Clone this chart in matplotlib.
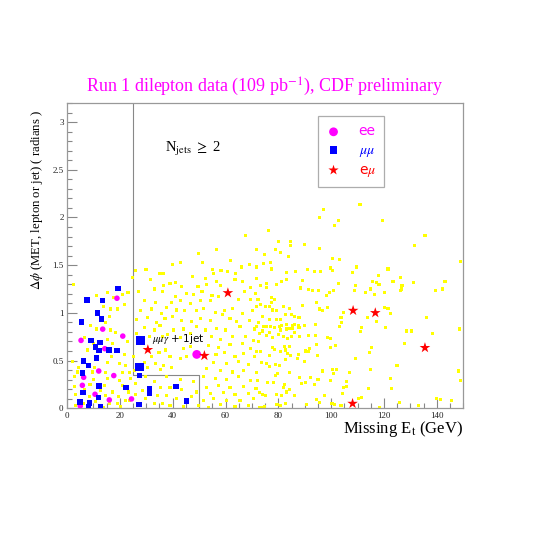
import numpy as np
import matplotlib
matplotlib.use('Agg')
import matplotlib.pyplot as plt
from matplotlib.ticker import MultipleLocator

plt.rcParams['font.family'] = ['Liberation Serif', 'DejaVu Serif']
plt.rcParams['mathtext.fontset'] = 'stix'

# ── ee (magenta circles) ──
ee_x = [18.9, 13.5, 5.3, 21.1, 14.3, 12.0, 17.7, 6.3, 5.8, 10.6, 16.0, 5.0, 24.4]
ee_y = [1.153, 0.829, 0.711, 0.756, 0.624, 0.390, 0.342, 0.324, 0.240, 0.146, 0.087, 0.024, 0.097]
ee_big_x = [49.1]
ee_big_y = [0.564]

# ── mumu (blue squares) ──
mm_x = [19.2, 7.6, 13.4, 11.5, 13.1, 5.4, 9.0, 12.4, 10.7, 12.1, 15.8, 18.9, 11.1, 6.2,
        8.1, 5.9, 12.0, 6.1, 22.3, 4.9, 8.5, 11.9, 8.2, 12.6, 27.3, 31.2, 31.2, 27.4,
        41.2, 45.3]
mm_y = [1.254, 1.136, 1.128, 0.996, 0.933, 0.902, 0.711, 0.690, 0.644, 0.603, 0.613, 0.603,
        0.529, 0.494, 0.446, 0.369, 0.233, 0.164, 0.219, 0.063, 0.055, 0.112, 0.014, 0.014,
        0.038, 0.206, 0.157, 0.342, 0.226, 0.077]
# mumu-gamma + 1 jet events
mmg_x = [27.8, 27.3]
mmg_y = [0.71, 0.432]

# ── emu (red stars) ──
em_x = [30.6, 60.9, 52.0, 108.3, 108.1, 116.7, 135.5]
em_y = [0.613, 1.209, 0.551, 1.024, 0.049, 1.0, 0.634]

# ── background MC (yellow) ──
bg_pts = [
    # 0 < MET < 37
    (2.5, 1.30), (11.1, 1.18), (15.3, 1.21), (21.1, 1.19), (23.1, 1.21), (17.6, 1.16),
    (13.8, 1.07), (16.5, 1.04), (19.1, 1.04), (21.8, 1.09), (16.0, 0.96), (14.4, 0.90),
    (9.0, 0.87), (11.1, 0.83), (16.5, 0.82), (18.4, 0.79), (6.6, 0.74), (15.3, 0.72),
    (10.0, 0.68), (17.3, 0.68), (23.0, 0.70), (7.7, 0.61), (21.6, 0.56), (16.9, 0.54),
    (2.1, 0.49), (4.5, 0.43), (10.4, 0.43), (15.3, 0.48), (19.7, 0.47), (22.3, 0.45),
    (3.9, 0.38), (9.6, 0.38), (14.4, 0.37), (21.0, 0.37), (23.5, 0.37), (2.7, 0.33),
    (10.0, 0.30), (15.3, 0.31), (19.7, 0.29), (23.9, 0.31), (8.7, 0.25), (14.3, 0.24),
    (21.0, 0.24), (2.7, 0.23), (6.7, 0.20), (12.8, 0.19), (17.3, 0.17), (23.4, 0.17),
    (3.3, 0.14), (8.5, 0.12), (14.6, 0.13), (19.4, 0.12), (10.9, 0.07), (16.0, 0.05),
    (19.1, 0.05), (22.2, 0.08), (6.4, 0.05), (3.3, 0.03), (13.8, 0.01), (20.1, 0.02),
    (23.7, 0.08),
    (25.9, 1.44), (29.9, 1.45), (24.7, 1.37), (31.7, 1.35), (35.2, 1.41), (27.1, 1.22),
    (33.0, 1.25), (36.5, 1.29), (29.2, 1.13), (33.6, 1.11), (27.9, 1.02), (31.9, 1.04),
    (35.7, 0.99), (26.4, 0.93), (30.4, 0.95), (34.0, 0.90), (29.2, 0.85), (33.0, 0.82),
    (26.4, 0.78), (36.1, 0.75), (31.1, 0.75), (25.1, 0.54), (31.9, 0.54), (34.8, 0.58),
    (29.2, 0.48), (33.6, 0.47), (30.4, 0.43), (35.5, 0.41), (25.6, 0.40), (29.8, 0.33),
    (33.0, 0.28), (35.5, 0.22), (26.0, 0.26), (28.5, 0.19), (34.2, 0.13), (29.8, 0.10),
    (33.0, 0.05), (36.1, 0.05), (26.0, 0.14),
    # 35 < MET < 72
    (67.4, 1.81), (56.7, 1.66), (49.7, 1.62), (42.8, 1.53), (39.8, 1.51), (51.3, 1.53),
    (61.9, 1.55), (69.1, 1.51), (36.5, 1.41), (55.1, 1.45), (55.4, 1.41), (58.3, 1.44),
    (60.6, 1.43), (63.8, 1.41), (66.0, 1.48), (47.5, 1.38), (52.3, 1.36), (63.6, 1.35),
    (66.5, 1.33), (39.0, 1.31), (41.0, 1.32), (43.2, 1.28), (49.6, 1.28), (52.8, 1.30),
    (56.7, 1.33), (58.2, 1.29), (69.3, 1.27), (36.0, 1.22), (41.2, 1.17), (45.3, 1.20),
    (48.0, 1.19), (51.1, 1.22), (54.9, 1.18), (57.2, 1.17), (67.3, 1.22), (71.5, 1.20),
    (39.5, 1.11), (42.8, 1.13), (46.8, 1.10), (50.5, 1.13), (54.3, 1.13), (65.0, 1.14),
    (69.3, 1.14), (37.5, 1.06), (41.3, 1.03), (44.4, 1.02), (48.9, 1.02), (51.8, 1.05),
    (56.1, 1.00), (59.5, 1.02), (62.8, 1.05), (66.3, 0.99), (70.3, 1.02), (37.1, 0.94),
    (39.8, 0.96), (43.4, 0.92), (47.2, 0.91), (50.6, 0.94), (54.3, 0.92), (58.8, 0.98),
    (61.7, 0.94), (64.3, 0.91), (69.1, 0.92), (35.2, 0.87), (40.3, 0.82), (44.1, 0.83),
    (48.9, 0.86), (52.4, 0.82), (56.7, 0.84), (60.1, 0.82), (65.5, 0.86), (71.1, 0.83),
    (38.0, 0.77), (42.8, 0.74), (46.6, 0.78), (54.8, 0.75), (58.0, 0.72), (62.6, 0.75),
    (67.4, 0.75), (70.6, 0.71), (53.5, 0.66), (57.4, 0.64), (61.7, 0.67), (66.4, 0.68),
    (69.3, 0.63), (44.1, 0.63), (46.6, 0.65), (37.4, 0.61), (56.4, 0.56), (59.6, 0.58),
    (63.6, 0.54), (66.8, 0.57), (71.1, 0.54), (39.0, 0.54), (42.8, 0.52), (45.3, 0.54),
    (55.4, 0.48), (60.5, 0.47), (65.0, 0.49), (68.8, 0.46), (36.5, 0.45), (39.6, 0.43),
    (52.9, 0.42), (58.2, 0.40), (62.8, 0.38), (66.8, 0.40), (71.8, 0.37), (51.6, 0.33),
    (56.1, 0.31), (60.5, 0.30), (64.9, 0.33), (69.3, 0.29), (37.8, 0.33), (42.8, 0.30),
    (47.9, 0.28), (52.9, 0.22), (57.3, 0.24), (61.7, 0.22), (66.8, 0.23), (71.2, 0.21),
    (39.0, 0.22), (43.4, 0.20), (49.1, 0.17), (54.2, 0.15), (59.2, 0.16), (63.6, 0.14),
    (68.7, 0.15), (37.8, 0.13), (41.5, 0.10), (47.2, 0.12), (51.6, 0.08), (55.4, 0.10),
    (60.5, 0.08), (65.5, 0.08), (70.6, 0.10), (39.0, 0.03), (44.1, 0.02), (49.7, 0.03),
    (53.5, 0.01), (58.0, 0.04), (63.6, 0.02), (68.7, 0.03),
    # 71 < MET < 112
    (97.1, 2.08), (95.6, 2.00), (102.8, 1.97), (101.4, 1.92), (76.4, 1.86), (79.9, 1.75),
    (84.5, 1.745), (84.6, 1.71), (90.0, 1.72), (95.5, 1.67), (79.0, 1.66), (80.7, 1.63),
    (84.0, 1.59), (74.9, 1.61), (71.6, 1.66), (71.8, 1.48), (74.5, 1.52), (77.1, 1.53),
    (77.4, 1.46), (86.4, 1.43), (83.2, 1.42), (91.0, 1.45), (93.8, 1.435), (95.8, 1.43),
    (100.5, 1.44), (99.9, 1.47), (103.3, 1.56), (100.4, 1.57), (108.0, 1.42), (109.5, 1.48),
    (71.8, 1.36), (75.4, 1.31), (73.1, 1.29), (75.6, 1.27), (81.2, 1.33), (79.3, 1.30),
    (83.2, 1.35), (89.3, 1.34), (88.5, 1.26), (91.4, 1.24), (92.8, 1.23), (95.2, 1.23),
    (100.8, 1.23), (99.2, 1.21), (98.1, 1.18), (102.7, 1.31), (109.2, 1.29), (108.7, 1.23),
    (72.3, 1.14), (77.3, 1.16), (78.5, 1.14), (77.4, 1.11), (73.1, 1.09), (71.6, 1.07),
    (75.0, 1.07), (76.8, 1.07), (77.8, 1.03), (79.2, 1.02), (82.1, 1.07), (84.3, 1.05),
    (89.1, 1.08), (94.3, 1.11), (95.6, 1.04), (96.8, 1.02), (98.5, 1.06), (104.8, 1.00),
    (103.7, 0.95), (74.1, 0.96), (76.8, 0.93), (79.4, 0.93), (80.8, 0.93), (82.8, 0.98),
    (85.0, 0.98), (86.2, 0.96), (87.8, 0.95), (72.6, 0.90), (71.6, 0.86), (74.4, 0.86),
    (75.5, 0.86), (77.0, 0.86), (78.5, 0.85), (80.3, 0.86), (81.3, 0.87), (83.2, 0.88),
    (85.2, 0.87), (86.0, 0.88), (87.6, 0.87), (89.9, 0.87), (94.1, 0.88), (103.2, 0.86),
    (104.0, 0.90), (111.4, 0.85), (73.0, 0.78), (73.9, 0.81), (76.8, 0.79), (80.7, 0.82),
    (83.0, 0.83), (84.2, 0.84), (85.5, 0.84), (87.8, 0.85), (75.4, 0.76), (77.9, 0.74),
    (80.1, 0.77), (81.9, 0.75), (83.6, 0.73), (85.0, 0.75), (86.2, 0.79), (88.0, 0.75),
    (91.4, 0.76), (94.2, 0.76), (98.6, 0.74), (99.9, 0.73), (101.5, 0.66), (111.0, 0.80),
    (72.5, 0.70), (77.8, 0.64), (78.5, 0.62), (82.3, 0.65), (82.7, 0.61), (84.2, 0.65),
    (83.3, 0.57), (84.7, 0.55), (87.6, 0.56), (90.4, 0.60), (91.3, 0.59), (91.9, 0.63),
    (94.6, 0.67), (99.9, 0.64), (71.7, 0.59), (73.4, 0.59), (76.5, 0.55), (80.8, 0.59),
    (82.7, 0.51), (87.4, 0.52), (90.0, 0.49), (94.8, 0.55), (73.5, 0.48), (75.5, 0.47),
    (76.6, 0.44), (78.9, 0.46), (80.6, 0.45), (79.8, 0.36), (78.8, 0.34), (84.3, 0.37),
    (88.0, 0.32), (88.9, 0.26), (92.3, 0.32), (93.7, 0.25), (90.3, 0.27), (95.0, 0.30),
    (96.8, 0.39), (100.6, 0.41), (101.9, 0.41), (101.0, 0.36), (99.9, 0.29), (107.1, 0.37),
    (109.2, 0.52), (105.7, 0.28), (72.2, 0.29), (75.9, 0.27), (78.2, 0.27), (82.3, 0.25),
    (81.8, 0.22), (84.3, 0.20), (83.0, 0.17), (86.1, 0.13), (81.1, 0.13), (79.2, 0.14),
    (75.1, 0.13), (71.7, 0.21), (73.0, 0.16), (74.0, 0.14), (97.6, 0.13), (100.3, 0.05),
    (94.3, 0.09), (95.6, 0.06), (101.4, 0.04), (104.4, 0.15), (104.7, 0.22), (105.9, 0.23),
    (72.7, 0.01), (73.6, 0.01), (74.9, 0.02), (79.5, 0.04), (80.7, 0.03), (82.7, 0.05),
    (90.5, 0.04), (103.7, 0.03), (110.4, 0.10), (111.6, 0.11),
    # MET > 110
    (110.9, 2.14), (119.4, 1.97), (135.5, 1.81), (131.6, 1.71), (149.0, 1.54), (121.5, 1.46),
    (117.8, 1.39), (126.4, 1.37), (115.7, 1.33), (117.0, 1.32), (118.1, 1.30), (123.4, 1.33),
    (131.2, 1.32), (143.1, 1.33), (142.0, 1.25), (139.4, 1.23), (126.8, 1.29), (126.5, 1.25),
    (126.3, 1.23), (115.0, 1.25), (113.1, 1.21), (116.4, 1.19), (120.2, 1.21), (120.3, 1.06),
    (121.5, 1.05), (122.5, 0.99), (113.6, 0.95), (117.0, 0.91), (136.0, 0.95), (120.6, 0.85),
    (128.5, 0.81), (130.3, 0.81), (138.4, 0.78), (148.7, 0.83), (127.7, 0.68), (115.2, 0.64),
    (114.5, 0.58), (124.9, 0.45), (115.0, 0.41), (148.1, 0.39), (149.1, 0.29), (122.6, 0.31),
    (122.9, 0.21), (114.0, 0.21), (125.8, 0.06), (118.2, 0.01), (133.1, 0.03), (139.8, 0.10),
    (141.3, 0.09), (145.6, 0.08),
]
bg_x = [p[0] for p in bg_pts]
bg_y = [p[1] for p in bg_pts]

# ── Plot ──
fig = plt.figure(figsize=(5.45, 5.45), dpi=100)
ax = fig.add_axes([0.123, 0.251, 0.727, 0.560])

ax.scatter(bg_x, bg_y, s=5, marker='s', color='#ffff00', edgecolors='none', zorder=2)
ax.scatter(ee_x, ee_y, s=16, marker='o', color='#ff00ff', edgecolors='none', zorder=3, label='ee')
ax.scatter(ee_big_x, ee_big_y, s=40, marker='o', color='#ff00ff', edgecolors='none', zorder=3)
ax.scatter(mm_x, mm_y, s=16, marker='s', color='#0000ff', edgecolors='none', zorder=3,
           label=r'$\mu\mu$')
ax.scatter(mmg_x, mmg_y, s=40, marker='s', color='#0000ff', edgecolors='none', zorder=3)
ax.scatter(em_x, em_y, s=65, marker='*', color='#ff0000', edgecolors='none', zorder=4,
           label=r'e$\mu$')

# cut lines
ax.plot([25, 25, 50, 50], [3.2, 0.35, 0.35, 0], color='#888888', lw=0.8, zorder=1)

ax.text(37, 2.72, r'N$_{\rm jets}$ $\geq$ 2', fontsize=10.5, va='center')
ax.text(32.2, 0.73, r'$\mu\mu\gamma$ + 1jet', fontsize=7.5, va='center',
        family=['DejaVu Sans'])

ax.set_xlim(0, 150)
ax.set_ylim(0, 3.2)
ax.xaxis.set_major_locator(MultipleLocator(20))
ax.xaxis.set_minor_locator(MultipleLocator(5))
ax.yaxis.set_major_locator(MultipleLocator(0.5))
ax.yaxis.set_minor_locator(MultipleLocator(0.1))
ax.yaxis.set_major_formatter(plt.FuncFormatter(lambda v, p: f'{v:g}'))
ax.tick_params(which='both', direction='in', colors='#888888', labelcolor='#222222',
               labelsize=6.5, width=0.8)
ax.tick_params(which='major', length=7, pad=2.5)
ax.tick_params(which='minor', length=3.5)
for sp in ax.spines.values():
    sp.set_color('#999999')
    sp.set_linewidth(0.9)

ax.set_xlabel(r'Missing E$_{\rm t}$ (GeV)', fontsize=12, loc='right')
ax.xaxis.set_label_coords(1.0, -0.036)
ax.set_ylabel(r'$\Delta\phi$ (MET, lepton or jet) ( radians )', fontsize=9.2, loc='top')
ax.yaxis.set_label_coords(-0.055, 0.977)

ax.set_title(r'Run 1 dilepton data (109 pb$^{-1}$), CDF preliminary',
             color='#ff00ff', fontsize=13, pad=8)

leg = ax.legend(loc='upper left', bbox_to_anchor=(0.634, 0.957), frameon=True,
                fancybox=False, edgecolor='#999999', fontsize=10, labelspacing=0.3,
                handletextpad=1.3, borderpad=0.6, handlelength=1.0, scatterpoints=1,
                borderaxespad=0)
leg.get_frame().set_linewidth(0.9)
for h, sz in zip(leg.legend_handles, [40, 32, 60]):
    h.set_sizes([sz])
for t, c in zip(leg.get_texts(), ['#ff00ff', '#0000ff', '#ff0000']):
    t.set_color(c)
    t.set_fontfamily('DejaVu Sans')

plt.savefig('out.png', dpi=100)
plt.close()
